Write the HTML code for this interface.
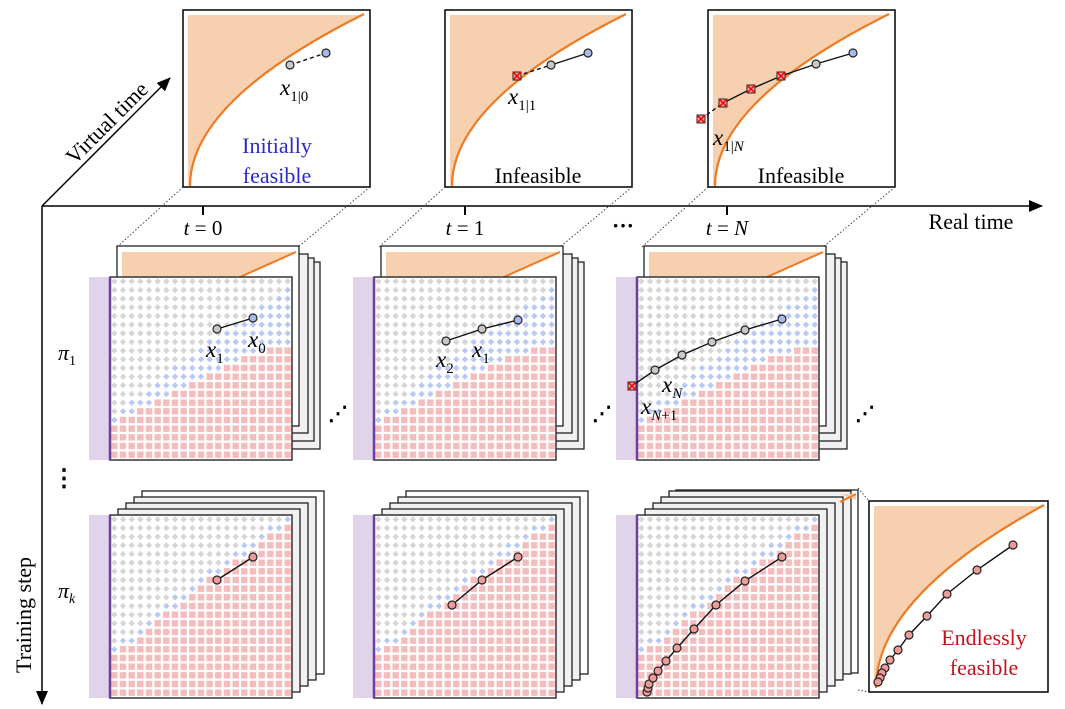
<!DOCTYPE html>
<html><head><meta charset="utf-8"><style>
html,body{margin:0;padding:0;background:#fff;}
svg{display:block;font-family:"Liberation Serif",serif;}
.m{font-style:italic;}
</style></head><body>
<svg id="s" width="1065" height="709" viewBox="0 0 1065 709" xmlns="http://www.w3.org/2000/svg">
<defs>
<marker id="ah2" markerWidth="14" markerHeight="14" refX="13" refY="7" orient="auto" markerUnits="userSpaceOnUse"><path d="M0,1 L14,7 L0,13 z" fill="#000"/></marker>
</defs>
<g id="root"></g>
</svg>
<script>
const NS="http://www.w3.org/2000/svg";
const root=document.getElementById('root');
function el(tag,attrs,parent){const e=document.createElementNS(NS,tag);for(const k in attrs)e.setAttribute(k,attrs[k]);(parent||root).appendChild(e);return e;}
function txt(x,y,str,attrs){const t=el('text',Object.assign({x:x,y:y},attrs||{}));t.innerHTML=str;return t;}
const OR='#f7d0b0',OL='#ee7a22';
el('line',{x1:42,y1:206,x2:1042,y2:206,stroke:'#000','stroke-width':1.5,'marker-end':'url(#ah2)'});
el('line',{x1:42,y1:206,x2:42,y2:704,stroke:'#000','stroke-width':1.5,'marker-end':'url(#ah2)'});
el('line',{x1:42,y1:206,x2:170,y2:78,stroke:'#000','stroke-width':1.5,'marker-end':'url(#ah2)'});
txt(0,0,'Virtual time',{'font-size':22,transform:'translate(112,128) rotate(-45)','text-anchor':'middle'});
txt(0,0,'Training step',{'font-size':22,transform:'translate(31,615) rotate(-90)','text-anchor':'middle'});
txt(971,229,'Real time',{'font-size':22,'text-anchor':'middle'});
[203,465,727].forEach(x=>el('line',{x1:x,y1:206,x2:x,y2:215,stroke:'#000','stroke-width':2}));
const tl=['0','1','<tspan class="m">N</tspan>'];
[203,465,727].forEach((x,i)=>txt(x,235,'<tspan class="m">t</tspan> = '+tl[i],{'font-size':21,'text-anchor':'middle'}));
txt(623,233,'···',{'font-size':22,'font-weight':'bold','text-anchor':'middle'});
txt(64,486,'⋮',{'font-size':24,'font-weight':'bold','text-anchor':'middle'});
txt(58,360,'<tspan class="m">π</tspan><tspan font-size="14" dy="5">1</tspan>',{'font-size':22});
txt(58,598,'<tspan class="m">π</tspan><tspan font-size="14" dy="5" class="m">k</tspan>',{'font-size':22});

function pt(x,y,c){el('circle',{cx:x,cy:y,r:4,fill:c,stroke:'#222','stroke-width':1.2});}
function xp(x,y){el('rect',{x:x-4,y:y-4,width:8,height:8,fill:'#f5a0a0',stroke:'#222','stroke-width':1});
 el('path',{d:`M${x-4},${y-4}L${x+4},${y+4}M${x+4},${y-4}L${x-4},${y+4}`,stroke:'#e00','stroke-width':1.5});}
function lab(x,y,sub){txt(x,y,'<tspan class="m">x</tspan><tspan font-size="15" dy="6">'+sub+'</tspan>',{'font-size':23});}
function poly(pts,dash){el('polyline',{points:pts.map(p=>p.join(',')).join(' '),fill:'none',stroke:'#111','stroke-width':1.4,'stroke-dasharray':dash||'none'});}

function topPanel(ox){
 const g=el('g',{transform:`translate(${ox},0)`});
 el('rect',{x:183,y:10,width:187,height:177,fill:'#fff',stroke:'#000','stroke-width':1.5},g);
 el('path',{d:'M188,15 L362,15 Q190,101 190,185 L188,185 Z',fill:OR},g);
 el('path',{d:'M190,186 Q190,101 364,14',fill:'none',stroke:OL,'stroke-width':2.2},g);
}
topPanel(0);topPanel(262);topPanel(525);
poly([[290,65],[326,53]],'4,3');pt(290,65,'#c8c8c8');pt(326,53,'#a9b8ee');
lab(280,95,'1|0');
txt(277,153,'Initially',{'font-size':22,fill:'#2a2acc','text-anchor':'middle'});
txt(277,183,'feasible',{'font-size':22,fill:'#2a2acc','text-anchor':'middle'});
poly([[517,76],[551,65]],'4,3');poly([[551,65],[588,53]]);xp(517,76);pt(551,65,'#c8c8c8');pt(588,53,'#a9b8ee');
lab(508,104,'1|1');
txt(538,183,'Infeasible',{'font-size':22,'text-anchor':'middle'});
poly([[701,119],[723,103]],'4,3');poly([[723,103],[751,89],[781,76],[816,64],[853,53]]);
xp(701,119);xp(723,103);xp(751,89);xp(781,76);pt(816,64,'#c8c8c8');pt(853,53,'#a9b8ee');
lab(713,145,'1|<tspan class="m">N</tspan>');
txt(801,183,'Infeasible',{'font-size':22,'text-anchor':'middle'});

[0,262,525].forEach(o=>{
 el('line',{x1:183+o,y1:187,x2:117+o,y2:247,stroke:'#444','stroke-width':1,'stroke-dasharray':'1.5,2'});
 el('line',{x1:370+o,y1:187,x2:298+o,y2:247,stroke:'#444','stroke-width':1,'stroke-dasharray':'1.5,2'});
});

function grid(x0,y0,row){
 const W=182,N=21,s=W/N;
 for(let i=0;i<N;i++)for(let j=0;j<N;j++){
  const u=(i+0.5)/N,v=(j+0.5)/N;
  const cx=x0+(i+0.5)*s,cy=y0+(j+0.5)*s;
  let b,w;
  if(row==1){b=0.82-0.60*u+0.13*u*u;w=0.03+0.27*u;}
  else{b=0.80-0.88*u+0.12*u*u;w=0.05;}
  if(v>b){el('rect',{x:cx-3.2,y:cy-3.2,width:6.4,height:6.4,fill:'#f4bcbc'});}
  else{const c=(v>b-w)?'#b9c8f4':'#d6d6d6';
   el('path',{d:`M${cx},${cy-3.2}L${cx+3.2},${cy}L${cx},${cy+3.2}L${cx-3.2},${cy}Z`,fill:c});}
 }
}
function front(x0,y0,row){
 el('rect',{x:x0-21,y:y0,width:21,height:183,fill:'#e0d3ea'});
 el('rect',{x:x0,y:y0,width:182,height:183,fill:'#fff',stroke:'#333','stroke-width':1.5});
 grid(x0,y0,row);
 el('line',{x1:x0,y1:y0,x2:x0,y2:y0+183,stroke:'#6b3fa0','stroke-width':2.5});
}
[110,374,637].forEach(x0=>{
 for(let k=3;k>=1;k--){el('rect',{x:x0+10+k*6,y:250+k*4,width:182,height:175+k*4,fill:'#f1f1f1',stroke:'#222','stroke-width':1.3});}
 el('rect',{x:x0+7,y:246,width:182,height:180,fill:'#fff',stroke:'#222','stroke-width':1.3});
 el('path',{d:`M${x0+12},252 L${x0+186},252 L${x0+130},277 L${x0+12},277 Z`,fill:OR});
 el('line',{x1:x0+130,y1:277,x2:x0+186,y2:252,stroke:OL,'stroke-width':2});
 front(x0,277,1);
 txt(x0+228,420,'⋰',{'font-size':20,'font-weight':'bold','text-anchor':'middle'});
});
[110,374,637].forEach((x0,ci)=>{
 const n=ci==2?5:4;
 for(let k=n;k>=1;k--){
  const dx=ci==2&&k==5?39:8*k, dy=ci==2&&k==5?-25:-6*k;
  el('rect',{x:x0+dx,y:515+dy,width:182,height:183,fill:k==n?'#fff':'#f1f1f1',stroke:'#222','stroke-width':1.3});
 }
 front(x0,515,2);
});
el('path',{d:'M840,494 L856,494 L856,500 Z',fill:OR});
el('line',{x1:840,y1:502,x2:856,y2:494,stroke:OL,'stroke-width':2});

poly([[217,329],[253,318]]);pt(217,329,'#c8c8c8');pt(253,318,'#a9b8ee');
lab(206,357,'1');lab(248,347,'0');
poly([[446,341],[482,329],[518,320]]);pt(446,341,'#c8c8c8');pt(482,329,'#c8c8c8');pt(518,320,'#a9b8ee');
lab(436,367,'2');lab(472,357,'1');
poly([[632,386],[655,370],[682,355],[712,342],[745,330],[782,319]]);
xp(632,386);[[655,370],[682,355],[712,342],[745,330]].forEach(p=>pt(p[0],p[1],'#c8c8c8'));pt(782,319,'#a9b8ee');
lab(662,392,'<tspan class="m">N</tspan>');lab(641,414,'<tspan class="m">N</tspan>+1');

const PK='#ee9b9b';
poly([[217,580],[253,557]]);pt(217,580,PK);pt(253,557,PK);
poly([[452,605],[482,580],[518,557]]);[[452,605],[482,580],[518,557]].forEach(p=>pt(p[0],p[1],PK));
const r3=[[647,692],[648,688],[649,684],[653,678],[658,671],[666,661],[677,648],[694,629],[716,605],[745,581],[782,557]];
poly(r3);r3.forEach(p=>pt(p[0],p[1],PK));

el('line',{x1:858,y1:488,x2:869,y2:501,stroke:'#444','stroke-width':1,'stroke-dasharray':'1.5,2'});
el('line',{x1:858,y1:690,x2:869,y2:692,stroke:'#444','stroke-width':1,'stroke-dasharray':'1.5,2'});
el('rect',{x:869,y:501,width:179,height:191,fill:'#fff',stroke:'#000','stroke-width':1.5});
el('path',{d:'M874,506 L1040,506 Q876,597 876,687 L874,687 Z',fill:OR});
el('path',{d:'M876,688 Q876,597 1044,505',fill:'none',stroke:OL,'stroke-width':2.2});
const zp=[[1013,545],[977,570],[947,594],[927,616],[909,635],[898,650],[890,660],[885,668],[882,673],[880,678],[878,682]];
poly(zp);zp.forEach(p=>pt(p[0],p[1],PK));
txt(984,645,'Endlessly',{'font-size':22,fill:'#c0141c','text-anchor':'middle'});
txt(984,675,'feasible',{'font-size':22,fill:'#c0141c','text-anchor':'middle'});
</script>
</body></html>
